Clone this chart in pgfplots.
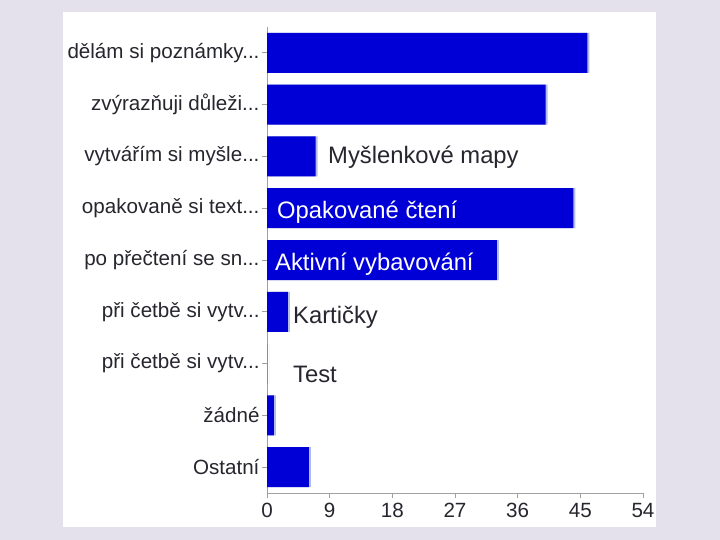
\documentclass[border=0pt]{standalone}
\usepackage{pgfplots}
\pgfplotsset{compat=1.18}
\usepackage{fontspec}
\setmainfont{Liberation Sans}
\definecolor{lav}{HTML}{E4E0EC}
\definecolor{barblue}{HTML}{0000D6}
\definecolor{shade}{HTML}{B4BCEC}
\definecolor{axgray}{HTML}{A0A0A0}
\definecolor{txt}{HTML}{26262E}
\newcommand{\tdots}{...}

\begin{document}
\begin{tikzpicture}
\fill[lav] (0,0) rectangle (720pt,540pt);
\fill[white] (63pt,13pt) rectangle (656pt,528pt);
\begin{axis}[
    at={(267pt,47pt)}, anchor=south west,
    scale only axis, width=376pt, height=466pt,
    xbar, bar width=40pt, bar shift=0pt,
    xmin=0, xmax=54, xtick={0,9,...,54},
    ymin=-0.5, ymax=8.5, y dir=reverse,
    ytick={0,1,2,3,4,5,6,7,8},
    yticklabels={dělám si poznámky\tdots,zvýrazňuji důleži\tdots,vytvářím si myšle\tdots,opakovaně si text\tdots,po přečtení se sn\tdots,při četbě si vytv\tdots,při četbě si vytv\tdots,žádné,Ostatní},
    axis lines*=left,
    axis line style={axgray, line width=1pt},
    tick style={axgray, line width=0.8pt},
    tick align=outside, major tick length=5pt,
    tick label style={font=\fontsize{20.6}{24}\selectfont, text=txt},
    /pgf/number format/assume math mode=true,
    yticklabel style={xshift=1pt},
    xticklabel style={yshift=-2pt},
    every axis plot/.append style={draw=none},
]
\addplot[fill=shade, xshift=2pt] coordinates {(46,0)(40,1)(7,2)(44,3)(33,4)(3,5)(0,6)(1,7)(6,8)};
\addplot[fill=barblue] coordinates {(46,0)(40,1)(7,2)(44,3)(33,4)(3,5)(0,6)(1,7)(6,8)};
\begin{scope}[font=\fontsize{23.8}{27}\selectfont]
\node[anchor=west, inner sep=0pt, text=txt] at (axis cs:8.76,2.02) {Myšlenkové mapy};
\node[anchor=west, inner sep=0pt, text=white] at (axis cs:1.44,3.08) {Opakované čtení};
\node[anchor=west, inner sep=0pt, text=white] at (axis cs:1.15,4.08) {Aktivní vybavování};
\node[anchor=west, inner sep=0pt, text=txt] at (axis cs:3.73,5.1) {Kartičky};
\node[anchor=west, inner sep=0pt, text=txt] at (axis cs:3.73,6.21) {Test};
\end{scope}
\end{axis}
\end{tikzpicture}
\end{document}
